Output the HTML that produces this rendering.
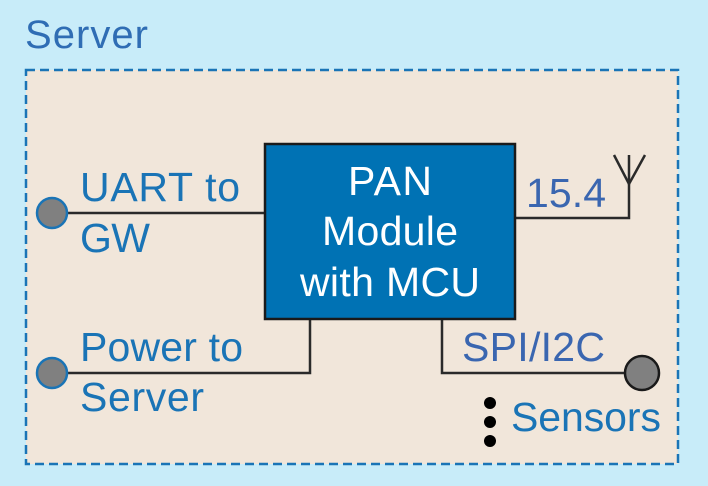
<!DOCTYPE html>
<html><head><style>
html,body{margin:0;padding:0;background:#c8ecf9;}
svg{display:block;}
text{font-family:"Liberation Sans",sans-serif;}
</style></head><body>
<svg width="708" height="486" viewBox="0 0 708 486">
<rect width="708" height="486" fill="#c8ecf9"/>
<text x="25" y="48" font-size="40" fill="#2f6db4" textLength="123">Server</text>
<rect x="26" y="70" width="652" height="394" fill="#f1e6da" stroke="#1a74b6" stroke-width="2.5" stroke-dasharray="9,5"/>
<g stroke="#2a2a2a" stroke-width="2.5" fill="none">
<line x1="52" y1="213" x2="266" y2="213"/>
<polyline points="52,373 310,373 310,319"/>
<polyline points="442,319 442,373 642,373"/>
<polyline points="515,218 629,218 629,155"/>
<polyline points="614,155 629,184 645,155"/>
</g>
<rect x="265" y="144" width="250" height="175" fill="#0072b4" stroke="#1a1a1a" stroke-width="2.5"/>
<g fill="#fff" font-size="41" text-anchor="middle">
<text x="390" y="195" textLength="84">PAN</text>
<text x="390" y="245" textLength="136">Module</text>
<text x="390" y="296" textLength="180">with MCU</text>
</g>
<circle cx="52" cy="213" r="15" fill="#808080" stroke="#1a74b6" stroke-width="2.5"/>
<circle cx="52" cy="373" r="15" fill="#808080" stroke="#1a74b6" stroke-width="2.5"/>
<circle cx="642" cy="373" r="17" fill="#808080" stroke="#1a1a1a" stroke-width="2.5"/>
<g fill="#1a74b6" font-size="41">
<text x="80" y="201" textLength="160">UART to</text>
<text x="80" y="252" textLength="70">GW</text>
<text x="80" y="361" textLength="163">Power to</text>
<text x="80" y="411" textLength="124">Server</text>
<text x="511" y="431" textLength="150">Sensors</text>
</g>
<text x="526" y="207" font-size="41" fill="#3a66b0" textLength="80">15.4</text>
<text x="462" y="361" font-size="41" fill="#3a66b0" textLength="143">SPI/I2C</text>
<g fill="#000">
<circle cx="490" cy="403" r="6"/>
<circle cx="490" cy="422" r="6"/>
<circle cx="490" cy="441" r="6"/>
</g>
</svg>
</body></html>
